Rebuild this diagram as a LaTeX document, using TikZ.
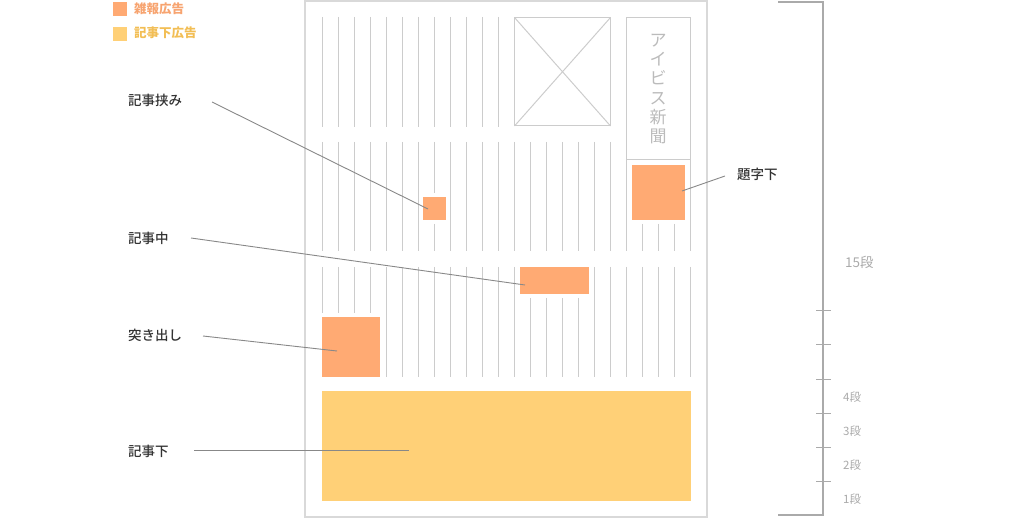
\documentclass[tikz,border=0pt]{standalone}
\usepackage{fontspec}
\newfontfamily\jp{Noto Sans CJK JP}
\newfontfamily\jpm{Noto Sans CJK JP Medium}
\definecolor{adorange}{HTML}{FFAA73}
\definecolor{adyellow}{HTML}{FFD077}
\definecolor{colline}{HTML}{CCCCCC}
\definecolor{framec}{HTML}{D9D9D9}
\definecolor{leaderc}{HTML}{888888}
\definecolor{scalec}{HTML}{AAAAAA}
\definecolor{labc}{HTML}{333333}
\definecolor{legorange}{HTML}{F7A470}
\definecolor{legyellow}{HTML}{F2BE55}
\definecolor{mastc}{HTML}{BBBBBB}
\begin{document}
\begin{tikzpicture}[x=1pt,y=-1pt,
  col/.style={draw=colline, line width=1pt},
  adbox/.style={fill=adorange, draw=none, inner sep=0, anchor=north west},
  adbigbox/.style={fill=adyellow, draw=none, inner sep=0, anchor=north west},
  leadline/.style={draw=leaderc, line width=0.9pt},
  lab/.style={font=\jpm\fontsize{13.5}{16}\selectfont, text=labc, anchor=west, inner sep=0},
  scalelab/.style={font=\jp\fontsize{13.5}{16}\selectfont, text=scalec, anchor=west, inner sep=0},
  scalesmall/.style={font=\jp\fontsize{11.5}{14}\selectfont, text=scalec, anchor=west, inner sep=0},
  legsq/.style={draw=none, inner sep=0, minimum width=14pt, minimum height=14pt, anchor=north west},
  legtext/.style={font=\jp\bfseries\fontsize{12.5}{15}\selectfont, anchor=west, inner sep=0}
]
\useasboundingbox (0,0) rectangle (1020,518);

% page frame
\draw[framec, line width=2pt] (305,1.5) rectangle (707,516.5);

% band 1 columns
\foreach \x in {322,338,...,498} \draw[col] (\x,17) -- (\x,127);
% photo
\draw[col] (514.5,17.5) rectangle (610.5,126);
\draw[col] (514.5,17.5) -- (610.5,126);
\draw[col] (610.5,17.5) -- (514.5,126);
% masthead box
\draw[col] (626,251) -- (626,17.5) -- (690,17.5) -- (690,251);
\draw[col] (626,160) -- (690,160);
\node[align=center, font=\jp\fontsize{17}{19.3}\selectfont, text=mastc, inner sep=0] (mast) at (658,89) {ア\\イ\\ビ\\ス\\新\\聞};

% band 2 columns
\foreach \x in {322,338,...,418} \draw[col] (\x,142) -- (\x,251);
\foreach \x in {450,466,...,610} \draw[col] (\x,142) -- (\x,251);
\draw[col] (434,142) -- (434,193);
\draw[col] (434,224) -- (434,251);
\foreach \x in {642,658,674} \draw[col] (\x,224) -- (\x,251);

% band 3 columns
\foreach \x in {386,402,...,514} \draw[col] (\x,267) -- (\x,377);
\foreach \x in {594,610,...,690} \draw[col] (\x,267) -- (\x,377);
\foreach \x in {322,338,354,370} \draw[col] (\x,267) -- (\x,313);
\foreach \x in {530,546,562,578} \draw[col] (\x,298) -- (\x,377);

% ads
\node[adbox, minimum width=23pt, minimum height=23pt] (hasami) at (423,197) {};
\node[adbox, minimum width=53pt, minimum height=55pt] (daiji) at (632,165) {};
\node[adbox, minimum width=69pt, minimum height=27pt] (naka) at (520,267) {};
\node[adbox, minimum width=58pt, minimum height=60pt] (tsuki) at (322,317) {};
\node[adbigbox, minimum width=369pt, minimum height=110pt] (shita) at (322,391) {};

% labels
\node[lab] (lhasami) at (128,100) {記事挟み};
\node[lab] (ldaiji) at (737,174) {題字下};
\node[lab] (lnaka) at (128,238) {記事中};
\node[lab] (ltsuki) at (128,335) {突き出し};
\node[lab] (lshita) at (128,451) {記事下};

% leader lines
\coordinate (s1) at (212,102);  \coordinate (e1) at (428,209);
\coordinate (s2) at (725,176);  \coordinate (e2) at (682,191);
\coordinate (s3) at (191,238);  \coordinate (e3) at (525,285);
\coordinate (s4) at (203,336);  \coordinate (e4) at (337,351);
\coordinate (s5) at (194,450);  \coordinate (e5) at (409,450);
\draw[leadline] (s1) -- (e1);
\draw[leadline] (s2) -- (e2);
\draw[leadline] (s3) -- (e3);
\draw[leadline] (s4) -- (e4);
\draw[leadline] (s5) -- (e5);

% scale
\draw[scalec, line width=2pt] (778,2) -- (823,2) -- (823,515) -- (778,515);
\foreach \y in {310.7,345,379.3,413.3,447,481.3} \draw[scalec, line width=1pt] (816,\y) -- (831,\y);
\node[scalelab] (s15) at (845,262) {15段};
\node[scalesmall] (s4d) at (843,397) {4段};
\node[scalesmall] (s3d) at (843,431) {3段};
\node[scalesmall] (s2d) at (843,465) {2段};
\node[scalesmall] (s1d) at (843,499) {1段};

% legend
\node[legsq, fill=adorange] (sqa) at (113,2) {};
\node[legtext, text=legorange] (lega) at (134,9) {雑報広告};
\node[legsq, fill=adyellow] (sqb) at (113,26.5) {};
\node[legtext, text=legyellow] (legb) at (134,33) {記事下広告};
\end{tikzpicture}
\end{document}
